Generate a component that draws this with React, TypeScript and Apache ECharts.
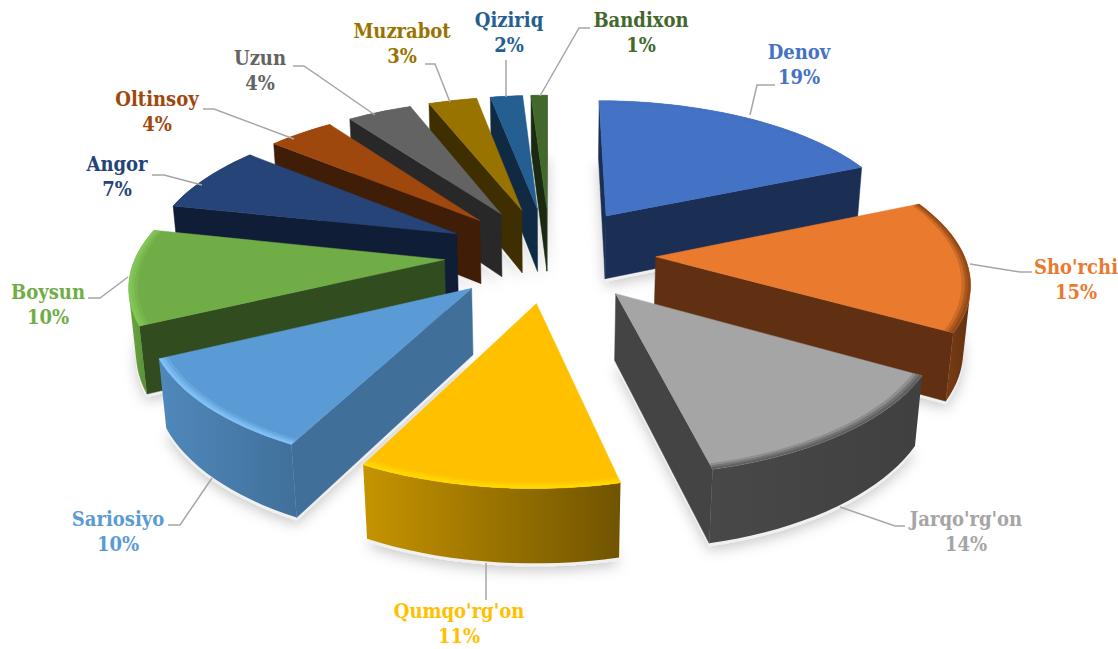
import React, { useEffect, useRef } from "react";
import * as echarts from "echarts";

const CATEGORIES = ["Denov", "Sho'rchi", "Jarqo'rg'on", "Qumqo'rg'on", "Sariosiyo", "Boysun", "Angor", "Oltinsoy", "Uzun", "Muzrabot", "Qiziriq", "Bandixon"];
// Percentages printed in the labels.
const PERCENT_LABELS = [19, 15, 14, 11, 10, 10, 7, 4, 4, 3, 2, 1];
// Share of the circle each slice visibly sweeps.
const SWEEP_SHARES = [18.6, 14.6, 13.1, 11.2, 10.3, 10.5, 7.5, 4.1, 4, 3, 2, 1];
const TOP_COLORS = ["#4472C4", "#E97A2E", "#A5A5A5", "#FFC000", "#5B9BD5", "#70AD47", "#264478", "#9E480E", "#636363", "#997300", "#255E91", "#43682B"];
const SIDE_COLORS = ["#1B2F55", "#613012", "#444444", "#5F4A00", "#40709A", "#314C1F", "#0F1D36", "#401D06", "#282828", "#3F2F00", "#102A44", "#1A2A10"];
const WALL_LEFT = ["#1B2F55", "#7A3D14", "#484848", "#C69400", "#5088BC", "#68A83F", "#0F1D36", "#401D06", "#282828", "#3F2F00", "#102A44", "#1A2A10"];
const WALL_RIGHT = ["#1B2F55", "#613012", "#404040", "#705400", "#40709A", "#5A8F38", "#0F1D36", "#401D06", "#282828", "#3F2F00", "#102A44", "#1A2A10"];
const RIM_COLORS = ["#4472C4", "#8A4516", "#5A5A5A", "#FFDC00", "#86C4FA", "#86C95A", "#264478", "#9E480E", "#636363", "#997300", "#255E91", "#43682B"];

const LABEL_POS = [[799, 52], [1076, 267], [966, 519], [459, 611], [118, 519], [48, 292], [117, 164], [157, 99], [260, 58], [402, 31], [509, 20], [641, 20]];
const LEADERS = [
  [[750, 115], [757, 85], [775, 85]],
  [[970, 264], [1020, 272], [1032, 272]],
  [[840, 507], [895, 526], [905, 526]],
  [[486, 563], [486, 600]],
  [[212, 478], [180, 525], [168, 525]],
  [[128, 277], [100, 298], [88, 298]],
  [[202, 185], [164, 175], [152, 175]],
  [[294, 139], [214, 109], [203, 109]],
  [[375, 115], [304, 66], [293, 66]],
  [[450, 102], [435, 64], [425, 64]],
  [[506, 97], [506, 60]],
  [[540, 96], [579, 28], [590, 28]],
];

const CX = 550, CY = 254, SCALE_X = 308, SCALE_Y = 142, SCALE_Z = 280, PERSP_Y = 0.145, PERSP_Z = 0.074;
const EXPLODE_X = 0.343, EXPLODE_Y = 0.335, HEIGHT = 0.235;
const TOTAL = SWEEP_SHARES.reduce((a, b) => a + b, 0);
const LABEL_FONT = 'bold 20px "DejaVu Serif Condensed", "DejaVu Serif", serif';

function project(x: number, y: number, z: number) {
  const d = 1 + PERSP_Y * y - PERSP_Z * z;
  return [CX + (SCALE_X * x) / d, CY - (SCALE_Y * y + SCALE_Z * z) / d];
}

function area(pts: number[][]) {
  let s = 0;
  pts.forEach((p, k) => {
    const q = pts[(k + 1) % pts.length];
    s += p[0] * q[1] - q[0] * p[1];
  });
  return s / 2;
}

const startAngles: number[] = [];
SWEEP_SHARES.reduce((acc, v, i) => {
  startAngles[i] = acc;
  return acc + (v / TOTAL) * Math.PI * 2;
}, 0);

function sliceGeom(i: number) {
  const a0 = startAngles[i];
  const a1 = a0 + (SWEEP_SHARES[i] / TOTAL) * Math.PI * 2;
  const mid = (a0 + a1) / 2;
  const ox = EXPLODE_X * Math.sin(mid);
  const oy = EXPLODE_Y * Math.cos(mid);
  const arc = (r: number, z: number) => {
    const n = Math.max(6, Math.ceil((a1 - a0) * 24));
    const pts: number[][] = [];
    for (let k = 0; k <= n; k++) {
      const a = a0 + ((a1 - a0) * k) / n;
      pts.push(project(ox + r * Math.sin(a), oy + r * Math.cos(a), z));
    }
    return pts;
  };
  return { ox, oy, arc, mid };
}

const DRAW_ORDER = SWEEP_SHARES.map((_, i) => i).sort((p, q) => sliceGeom(q).oy - sliceGeom(p).oy);

function renderItem(_params: any, api: any) {
  const i = api.value(0) as number;
  const rank = DRAW_ORDER.indexOf(i);
  const { ox, oy, arc } = sliceGeom(i);
  const base = 10 + rank * 10;
  const apexTop = project(ox, oy, 0);
  const apexBot = project(ox, oy, -HEIGHT);
  const top = arc(1, 0);
  const bot = arc(1, -HEIGHT);
  const last = top.length - 1;
  const children: any[] = [];
  children.push({
    type: "polygon",
    z2: 1,
    shape: { points: [apexBot, ...bot].map((p) => [p[0], p[1] + 3]) },
    style: { fill: "#f0f0f0", shadowBlur: 14, shadowColor: "rgba(0,0,0,0.22)", shadowOffsetY: 4 },
  });
  const side = SIDE_COLORS[i];
  const startWall = [apexTop, top[0], bot[0], apexBot];
  const endWall = [apexTop, top[last], bot[last], apexBot];
  if (area(startWall) < 0) {
    children.push({ type: "polygon", z2: base, shape: { points: startWall }, style: { fill: side, stroke: side, lineWidth: 0.5 } });
  }
  if (area(endWall) > 0) {
    children.push({ type: "polygon", z2: base, shape: { points: endWall }, style: { fill: side, stroke: side, lineWidth: 0.5 } });
  }
  const frontTop: number[][] = [];
  const frontBot: number[][] = [];
  for (let k = 0; k < last; k++) {
    if (area([top[k], top[k + 1], bot[k + 1], bot[k]]) < 0) {
      if (!frontTop.length) {
        frontTop.push(top[k]);
        frontBot.push(bot[k]);
      }
      frontTop.push(top[k + 1]);
      frontBot.push(bot[k + 1]);
    }
  }
  if (frontTop.length) {
    children.push({
      type: "polygon",
      z2: base + 1,
      shape: { points: [...frontTop, ...frontBot.slice().reverse()] },
      style: {
        fill: new echarts.graphic.LinearGradient(0, 0, 1, 0, [
          { offset: 0, color: WALL_LEFT[i] },
          { offset: 1, color: WALL_RIGHT[i] },
        ]),
      },
    });
  }
  children.push({
    type: "polygon",
    z2: base + 2,
    shape: { points: [apexTop, ...top] },
    style: { fill: TOP_COLORS[i], stroke: TOP_COLORS[i], lineWidth: 0.5 },
  });
  [0.972, 0.982, 0.991].forEach((r, k) => {
    children.push({
      type: "polygon",
      z2: base + 3 + k,
      shape: { points: [...arc(r, 0), ...top.slice().reverse()] },
      style: { fill: RIM_COLORS[i], opacity: 0.3 + k * 0.2 },
    });
  });
  children.push({
    type: "polyline",
    z2: 200,
    shape: { points: LEADERS[i] },
    style: { stroke: "#A6A6A6", lineWidth: 1.5, fill: "none" },
  });
  children.push({
    type: "text",
    z2: 201,
    x: LABEL_POS[i][0],
    y: LABEL_POS[i][1],
    style: { text: CATEGORIES[i], fill: TOP_COLORS[i], font: LABEL_FONT, align: "center", verticalAlign: "middle" },
  });
  children.push({
    type: "text",
    z2: 201,
    x: LABEL_POS[i][0],
    y: LABEL_POS[i][1] + 25,
    style: { text: `${PERCENT_LABELS[i]}%`, fill: TOP_COLORS[i], font: LABEL_FONT, align: "center", verticalAlign: "middle" },
  });
  return { type: "group", children };
}

export default function App() {
  const ref = useRef<HTMLDivElement>(null);
  useEffect(() => {
    const chart = echarts.init(ref.current!, undefined, { renderer: "svg" });
    chart.setOption({
      animation: false,
      backgroundColor: "#ffffff",
      series: [
        {
          type: "custom",
          coordinateSystem: "none",
          renderItem,
          silent: true,
          data: DRAW_ORDER.map((i) => ({ name: CATEGORIES[i], value: [i, SWEEP_SHARES[i]] })),
        },
      ],
    });
    return () => chart.dispose();
  }, []);
  return <div ref={ref} style={{ position: "fixed", left: 0, top: 0, width: 1118, height: 649 }} />;
}
